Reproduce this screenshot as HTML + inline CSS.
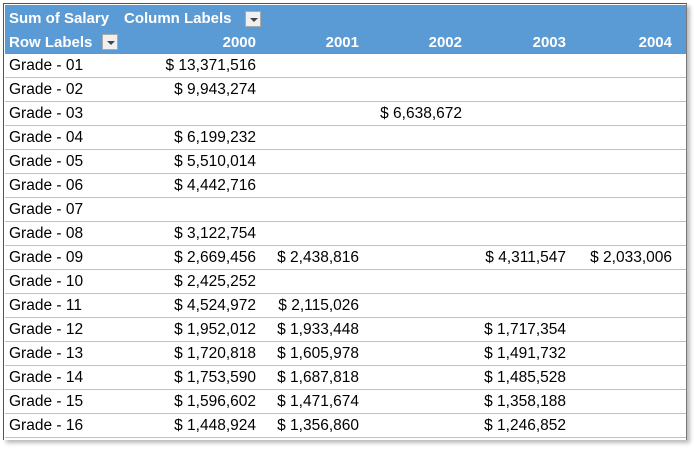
<!DOCTYPE html>
<html><head><style>
body{margin:0;width:694px;height:452px;background:#fff;overflow:hidden;font-family:"Liberation Sans",sans-serif;}
.wrap{position:absolute;left:3px;top:3px;width:682px;height:436px;border-left:1px solid #555;border-top:1px solid #555;border-right:1px solid #777;box-shadow:3px 3px 4px #bbb;background:#fff;}
.hdr{position:absolute;left:1px;top:1px;width:681px;height:49px;background:#5b9bd5;}
.r{position:absolute;left:1px;width:681px;height:24px;border-bottom:1px solid #a9c6e4;box-sizing:border-box;font-size:15.5px;color:#000;}
.c{position:absolute;top:3px;white-space:nowrap;}
.h{color:#fff;font-weight:bold;font-size:15px;position:absolute;white-space:nowrap;}
.dd{position:absolute;width:16px;height:16px;background:#f0f0f0;border:1px solid #aaa;box-sizing:border-box;}
.dd:after{content:"";position:absolute;left:4px;top:6px;border-left:4px solid transparent;border-right:4px solid transparent;border-top:4px solid #444;}
</style></head><body>
<div class="wrap">
<div class="hdr">
<div class="h" style="left:4px;top:5px">Sum of Salary</div>
<div class="h" style="left:119px;top:5px">Column Labels</div>
<div class="dd" style="left:240px;top:6px"></div>
<div class="h" style="left:4px;top:29px">Row Labels</div>
<div class="dd" style="left:97px;top:29px"></div>
<div class="h" style="right:430px;top:29px">2000</div>
<div class="h" style="right:327px;top:29px">2001</div>
<div class="h" style="right:224px;top:29px">2002</div>
<div class="h" style="right:120px;top:29px">2003</div>
<div class="h" style="right:14px;top:29px">2004</div>
</div>
<div id="rows"></div>
</div>
<script>
var d=[["01","$ 13,371,516","","","",""],["02","$ 9,943,274","","","",""],["03","","","$ 6,638,672","",""],["04","$ 6,199,232","","","",""],["05","$ 5,510,014","","","",""],["06","$ 4,442,716","","","",""],["07","","","","",""],["08","$ 3,122,754","","","",""],["09","$ 2,669,456","$ 2,438,816","","$ 4,311,547","$ 2,033,006"],["10","$ 2,425,252","","","",""],["11","$ 4,524,972","$ 2,115,026","","",""],["12","$ 1,952,012","$ 1,933,448","","$ 1,717,354",""],["13","$ 1,720,818","$ 1,605,978","","$ 1,491,732",""],["14","$ 1,753,590","$ 1,687,818","","$ 1,485,528",""],["15","$ 1,596,602","$ 1,471,674","","$ 1,358,188",""],["16","$ 1,448,924","$ 1,356,860","","$ 1,246,852",""]];
var R=[430,327,224,120,14],h="";
d.forEach(function(r,i){h+='<div class="r" style="top:'+(50+i*24)+'px"><div class="c" style="left:4px">Grade - '+r[0]+'</div>';
for(var j=1;j<6;j++)if(r[j])h+='<div class="c" style="right:'+R[j-1]+'px">'+r[j]+'</div>';h+='</div>';});
document.getElementById('rows').innerHTML=h;
</script>
</body></html>
